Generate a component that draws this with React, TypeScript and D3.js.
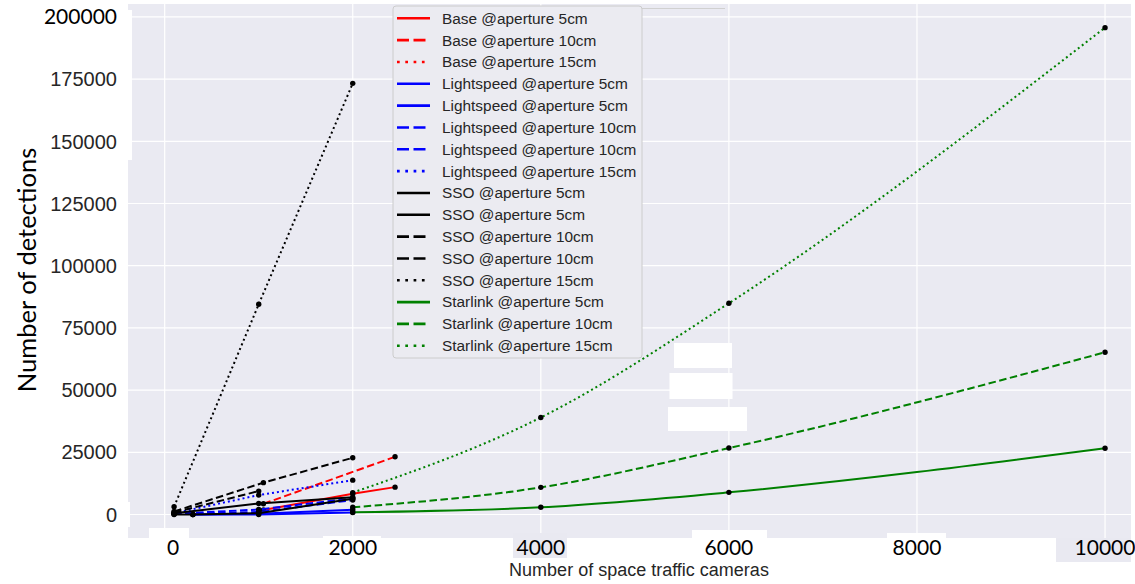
import React from "react";
import * as d3 from "d3";

// ---------- data ----------
const xTicks = [0, 2000, 4000, 6000, 8000, 10000];
const yTicks = [0, 25000, 50000, 75000, 100000, 125000, 150000, 175000, 200000];

const base5X = [1050, 2000, 2450];
const base5Y = [1800, 8300, 11000];
const base10X = [1050, 2450];
const base10Y = [4300, 23200];
const base15X: number[] = [];
const base15Y: number[] = [];

const light5aX = [300, 1000, 2000];
const light5aY = [0, 300, 1900];
const light5bX = [300, 1000, 2000];
const light5bY = [0, 0, 800];
const light10aX = [100, 1000, 2000];
const light10aY = [300, 2000, 6500];
const light10bX = [100, 1000, 2000];
const light10bY = [200, 1000, 5800];
const light15X = [100, 1000, 2000];
const light15Y = [500, 7800, 13800];

const sso5aX = [100, 1000, 2000];
const sso5aY = [500, 4400, 6900];
const sso5bX = [100, 300, 1000, 2000];
const sso5bY = [0, 0, 500, 6300];
const sso10aX = [100, 1050, 2000];
const sso10aY = [1200, 12800, 22800];
const sso10bX = [100, 1000];
const sso10bY = [800, 9400];
const sso15X = [100, 1000, 2000];
const sso15Y = [3100, 84500, 173300];

const star5X = [2000, 4000, 6000, 10000];
const star5Y = [900, 2900, 8900, 26600];
const star10X = [2000, 4000, 6000, 10000];
const star10Y = [2900, 10900, 26700, 65200];
const star15X = [2000, 4000, 6000, 10000];
const star15Y = [8800, 39000, 84900, 195700];

type Style = "solid" | "dashed" | "dotted";
interface Series { label: string; color: string; style: Style; xs: number[]; ys: number[]; smooth?: boolean }

const series: Series[] = [
  { label: "Base @aperture 5cm", color: "#ff0000", style: "solid", xs: base5X, ys: base5Y },
  { label: "Base @aperture 10cm", color: "#ff0000", style: "dashed", xs: base10X, ys: base10Y },
  { label: "Base @aperture 15cm", color: "#ff0000", style: "dotted", xs: base15X, ys: base15Y },
  { label: "Lightspeed @aperture 5cm", color: "#0000ff", style: "solid", xs: light5aX, ys: light5aY },
  { label: "Lightspeed @aperture 5cm", color: "#0000ff", style: "solid", xs: light5bX, ys: light5bY },
  { label: "Lightspeed @aperture 10cm", color: "#0000ff", style: "dashed", xs: light10aX, ys: light10aY },
  { label: "Lightspeed @aperture 10cm", color: "#0000ff", style: "dashed", xs: light10bX, ys: light10bY },
  { label: "Lightspeed @aperture 15cm", color: "#0000ff", style: "dotted", xs: light15X, ys: light15Y },
  { label: "SSO @aperture 5cm", color: "#000000", style: "solid", xs: sso5aX, ys: sso5aY },
  { label: "SSO @aperture 5cm", color: "#000000", style: "solid", xs: sso5bX, ys: sso5bY },
  { label: "SSO @aperture 10cm", color: "#000000", style: "dashed", xs: sso10aX, ys: sso10aY },
  { label: "SSO @aperture 10cm", color: "#000000", style: "dashed", xs: sso10bX, ys: sso10bY },
  { label: "SSO @aperture 15cm", color: "#000000", style: "dotted", xs: sso15X, ys: sso15Y },
  { label: "Starlink @aperture 5cm", color: "#008000", style: "solid", xs: star5X, ys: star5Y, smooth: true },
  { label: "Starlink @aperture 10cm", color: "#008000", style: "dashed", xs: star10X, ys: star10Y, smooth: true },
  { label: "Starlink @aperture 15cm", color: "#008000", style: "dotted", xs: star15X, ys: star15Y, smooth: true },
];

// ---------- layout ----------
const W = 1135, H = 584;
const plot = { left: 128, right: 1131, top: 4, bottom: 538 };
const bg = "#EAEAF2";

const dash = (s: Style) => (s === "dashed" ? "7.5,3.5" : s === "dotted" ? "2,3" : undefined);
const legDash = (s: Style) => (s === "dashed" ? "12,4.5" : s === "dotted" ? "2.7,5.6" : undefined);

export default function App() {
  const x = d3.scaleLinear().domain([-390, 10276]).range([plot.left, plot.right]);
  const y = d3.scaleLinear().domain([-9450, 205200]).range([plot.bottom, plot.top]);

  const linear = d3.line<[number, number]>().x((d) => x(d[0])).y((d) => y(d[1]));
  const smooth = d3.line<[number, number]>().x((d) => x(d[0])).y((d) => y(d[1])).curve(d3.curveMonotoneX);

  const legend = { x: 393, y: 6, w: 249, rowH: 21.83, firstY: 18.3 };

  return (
    <svg width={W} height={H} style={{ position: "absolute", left: 0, top: 0, background: "#fff" }}>
      <defs>
        <clipPath id="pc">
          <rect x={plot.left} y={plot.top} width={plot.right - plot.left} height={plot.bottom - plot.top} />
        </clipPath>
      </defs>
      <rect x={plot.left} y={plot.top} width={plot.right - plot.left} height={plot.bottom - plot.top} fill={bg} />
      {xTicks.map((t) => (
        <line key={"gx" + t} x1={x(t)} x2={x(t)} y1={plot.top} y2={plot.bottom} stroke="#fff" strokeWidth={1.2} />
      ))}
      {yTicks.map((t) => (
        <line key={"gy" + t} x1={plot.left} x2={plot.right} y1={y(t)} y2={y(t)} stroke="#fff" strokeWidth={1.2} />
      ))}

      <g clipPath="url(#pc)">
        {series.map((s, i) => {
          const pts = s.xs.map((v, j) => [v, s.ys[j]] as [number, number]);
          if (pts.length === 0) return null;
          const gen = s.smooth ? smooth : linear;
          return (
            <g key={"s" + i}>
              <path d={gen(pts) || ""} fill="none" stroke={s.color} strokeWidth={2}
                strokeDasharray={dash(s.style)} />
              {pts.map((p, j) => (
                <circle key={j} cx={x(p[0])} cy={y(p[1])} r={2.7} fill="#000" />
              ))}
            </g>
          );
        })}
      </g>

      {/* white patches from the source image */}
      <rect x={674} y={343} width={58} height={25} fill="#fff" />
      <rect x={669.5} y={373} width={63} height={26} fill="#fff" />
      <rect x={668} y={407} width={79} height={24} fill="#fff" />
      <rect x={117} y={502} width={13} height={25} fill="#fff" />
      <rect x={126} y={10} width={6} height={150} fill="#fff" />

      {/* legend */}
      <line x1={642} x2={725} y1={8.5} y2={8.5} stroke="#d0d0d0" strokeWidth={1} />
      <rect x={legend.x} y={legend.y} width={legend.w} height={352} rx={3} fill="#EBEBF1" stroke="#cccccc" strokeWidth={1} />
      {series.map((s, i) => {
        const cy = legend.firstY + i * legend.rowH;
        return (
          <g key={"l" + i}>
            <line x1={397} x2={430} y1={cy} y2={cy} stroke={s.color} strokeWidth={2.6}
              strokeDasharray={legDash(s.style)} />
            <text x={442} y={cy} dy="0.35em" fontFamily="Liberation Sans, Arial, sans-serif" fontSize={15.4} fill="#262626">
              {s.label}
            </text>
          </g>
        );
      })}

      {/* y tick labels */}
      {yTicks.map((t) => {
        const special = t === 200000;
        return (
          <text key={"yt" + t} x={117} y={y(t)} dy="0.36em" textAnchor="end"
            fontFamily={special ? "Lato, sans-serif" : "Liberation Sans, Arial, sans-serif"}
            fontSize={special ? 21 : 20} fill={special ? "#000" : "#262626"}>
            {t}
          </text>
        );
      })}

      {/* x tick labels with patched boxes */}
      <rect x={149} y={528} width={40} height={20} fill="#fff" />
      <rect x={323} y={536} width={58} height={20} fill="#fff" />
      <rect x={513} y={533} width={54} height={25} fill="#E9E9F1" />
      <rect x={692} y={530} width={75} height={28} fill="#fff" />
      <rect x={887} y={533} width={59} height={22} fill="#fff" />
      <rect x={1056} y={538} width={75} height={24} fill="#E9E9F1" />
      {xTicks.map((t) => (
        <text key={"xt" + t} x={t === 0 ? 173 : x(t)} y={555} textAnchor="middle"
          fontFamily="Lato, sans-serif" fontSize={21} fill="#000">
          {t}
        </text>
      ))}

      <text x={639} y={576} textAnchor="middle" fontFamily="Liberation Sans, Arial, sans-serif" fontSize={18} fill="#262626">
        Number of space traffic cameras
      </text>
      <text transform="translate(36,270) rotate(-90)" textAnchor="middle" fontFamily="Lato, sans-serif" fontSize={25.5} fill="#000">
        Number of detections
      </text>
    </svg>
  );
}
